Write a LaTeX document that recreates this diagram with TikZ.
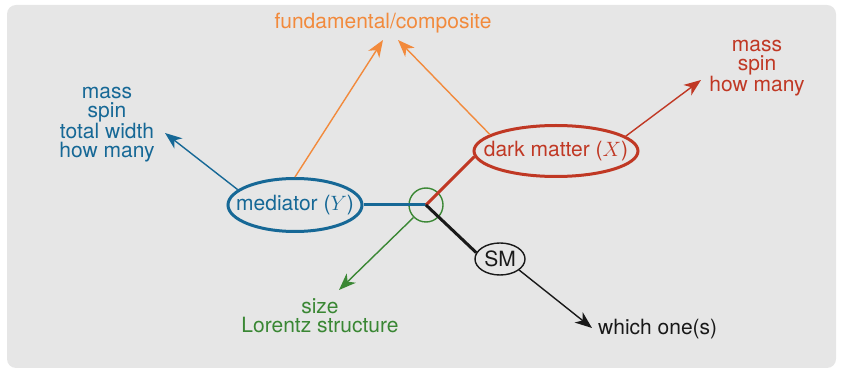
\documentclass[tikz,border=0pt]{standalone}
\usepackage{fontspec}
\setmainfont{TeX Gyre Heros}
\usetikzlibrary{arrows.meta,shapes.geometric}
\definecolor{cblue}{RGB}{22,104,150}
\definecolor{cred}{RGB}{192,56,36}
\definecolor{corange}{RGB}{242,138,60}
\definecolor{cgreen}{RGB}{58,135,52}
\definecolor{cbg}{RGB}{230,230,230}
\definecolor{cblack}{RGB}{25,25,25}
\tikzset{
  lbl/.style={inner sep=0pt, align=center, font=\fontsize{21}{19}\selectfont},
  oval/.style={ellipse, draw, line width=3pt, inner sep=0pt},
  thin arrow/.style={line width=1.4pt, -{Stealth[length=17pt,width=13pt,inset=5pt]}},
  thick link/.style={line width=3pt},
}
\begin{document}
\begin{tikzpicture}[x=1pt,y=-1pt]
\useasboundingbox (0,0) rectangle (841,371);
\fill[cbg, rounded corners=9pt] (7,5) rectangle (836,368);

% hub
\coordinate (hub) at (426,205);
\node[circle, draw=cgreen, line width=1.4pt, minimum size=34pt, inner sep=0pt] (ring) at (hub) {};

% ovals
\node[oval, draw=cblue, minimum width=134pt, minimum height=53pt] (med) at (295,205) {};
\node[lbl, text=cblue] (medtxt) at (med.center) {mediator ($Y$)};
\node[oval, draw=cred, minimum width=164pt, minimum height=51pt] (dm) at (556,151) {};
\node[lbl, text=cred] (dmtxt) at (dm.center) {dark matter ($X$)};
\node[ellipse, draw=cblack, line width=1.4pt, minimum width=50pt, minimum height=32pt, inner sep=0pt] (sm) at (500,259) {};
\node[lbl, text=cblack] (smtxt) at (sm.center) {SM};

% thick links
\draw[thick link, cblue] (med.east) -- (hub);
\draw[thick link, cred] (hub) -- (dm.-176);
\draw[thick link, cblack] (hub) -- (sm.165);

% labels
\node[lbl, text=corange] (fc) at (383,23) {fundamental/composite};
\node[lbl, text=cblue] (medprops) at (107,125) {mass\\spin\\total width\\how many};
\node[lbl, text=cred] (dmprops) at (757,68) {mass\\spin\\how many};
\node[lbl, text=cgreen] (green) at (320,316) {size\\Lorentz structure};
\node[lbl, text=cblack, anchor=west] (which) at (598,329) {which one(s)};

% arrow tips
\coordinate (tfc1) at (383,40);
\coordinate (tfc2) at (398,40);
\coordinate (tmed) at (165,133);
\coordinate (tdm) at (701,80);
\coordinate (tgreen) at (339,290);
\coordinate (twhich) at (592,328);

% thin arrows
\draw[thin arrow, corange] (med.90) -- (tfc1);
\draw[thin arrow, corange] (dm.166) -- (tfc2);
\draw[thin arrow, cblue] (med.165) -- (tmed);
\draw[thin arrow, cred] (dm.12) -- (tdm);
\draw[thin arrow, cgreen] (ring.-135) -- (tgreen);
\draw[thin arrow, cblack] (sm.-30) -- (twhich);
\end{tikzpicture}
\end{document}
